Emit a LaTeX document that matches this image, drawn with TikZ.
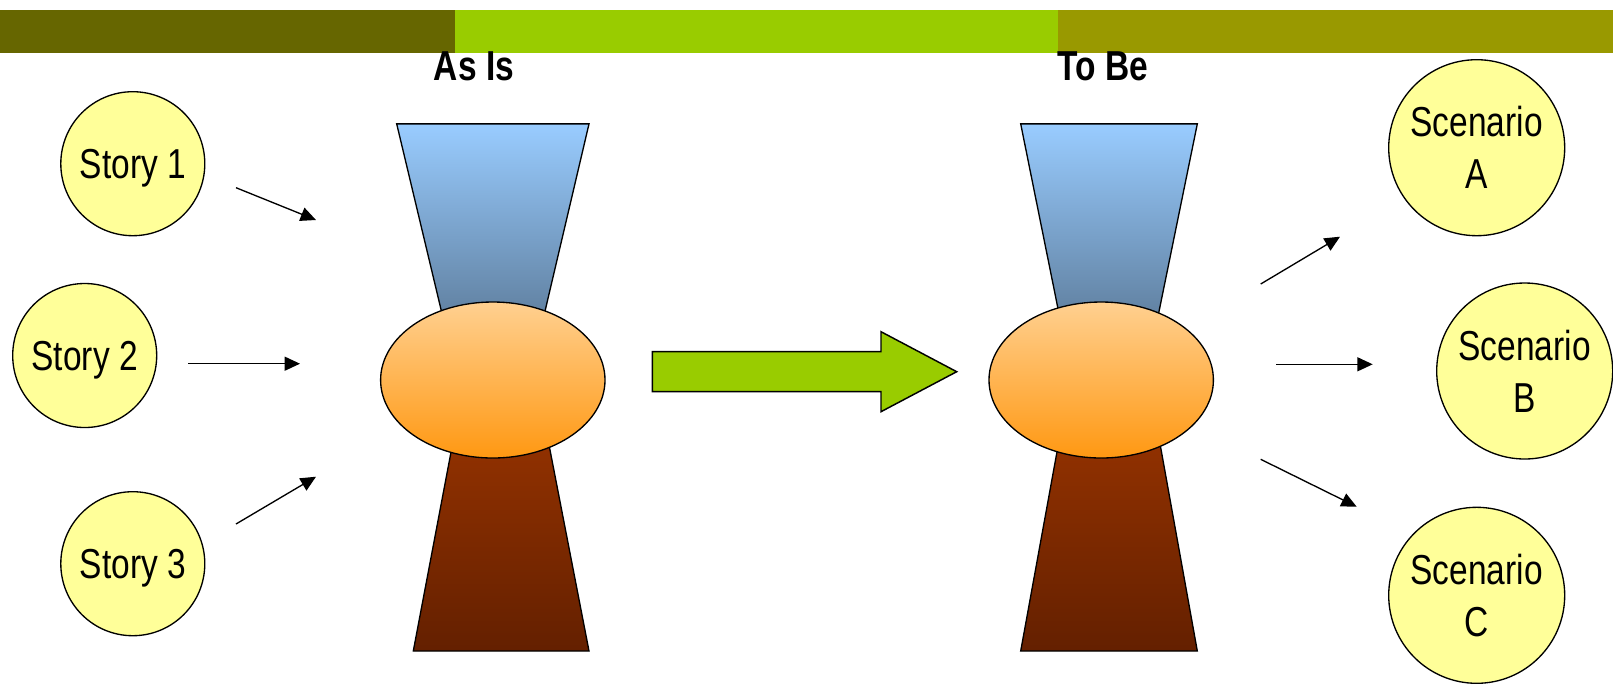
\documentclass[tikz,border=0pt]{standalone}
\usepackage{fontspec}
\usetikzlibrary{arrows.meta}
\newfontfamily\condsans[FakeStretch=0.8]{Liberation Sans}

\definecolor{barDark}{HTML}{666600}
\definecolor{barLime}{HTML}{99CC00}
\definecolor{barOlive}{HTML}{999900}
\definecolor{padYellow}{HTML}{FFFF99}
\definecolor{funnelTop}{HTML}{99CCFF}
\definecolor{funnelTopLow}{RGB}{78,104,130}
\definecolor{coreTop}{RGB}{255,208,144}
\definecolor{coreLow}{RGB}{255,152,18}
\definecolor{baseTop}{RGB}{158,54,0}
\definecolor{baseLow}{RGB}{100,32,0}

\tikzset{
  bubble/.style={circle, draw=black, line width=1pt, fill=padYellow,
    inner sep=0pt, align=center,
    font=\condsans\fontsize{31.4}{39}\selectfont},
  storybubble/.style={bubble, minimum size=108pt, text depth=0pt},
  scenebubble/.style={bubble, minimum size=132pt},
  flow/.style={line width=1pt, -{Triangle[length=11.5pt,width=10.5pt]}},
  title/.style={anchor=base, inner sep=0pt,
    font=\condsans\bfseries\fontsize{31.4}{39}\selectfont},
  funnel/.style={draw=black, line width=1pt, top color=funnelTop, bottom color=funnelTopLow},
  stem/.style={draw=black, line width=1pt, top color=baseTop, bottom color=baseLow},
  core/.style={draw=black, line width=1pt, top color=coreTop, bottom color=coreLow},
  bigarrow/.style={draw=black, line width=1.1pt, fill=barLime}
}

\begin{document}
\begin{tikzpicture}[x=0.75pt, y=-0.75pt]
  \useasboundingbox (0,0) rectangle (1613,683);
  \fill[white] (0,0) rectangle (1613,683);

  % header bar
  \fill[barDark]  (0,10)    rectangle (455,53);
  \fill[barLime]  (455,10)  rectangle (1057.7,53);
  \fill[barOlive] (1057.7,10) rectangle (1613,53);

  % column titles
  \node[title] (asis) at (474,80) {As Is};
  \node[title] (tobe) at (1103,80) {To Be};

  % input stories
  \node[storybubble] (s1) at (132.8,163.7) {Story 1};
  \node[storybubble] (s2) at (84.7,355.5)  {Story 2};
  \node[storybubble] (s3) at (132.8,563.7) {Story 3};

  % outcome scenarios
  \node[scenebubble] (sa) at (1476.7,147.7) {Scenario\\A};
  \node[scenebubble] (sb) at (1524.7,371)   {Scenario\\B};
  \node[scenebubble] (sc) at (1476.7,595.3) {Scenario\\C};

  % left hourglass (current state)
  \path[funnel] (396.7,123.9) -- (589,123.9) -- (528.6,381) -- (458.1,381) -- cycle;
  \path[stem] (464.5,381) -- (536.6,381) -- (589,651) -- (413.3,651) -- cycle;
  \path[core] (492.8,380) ellipse [x radius=112.2, y radius=78];

  % right hourglass (future state)
  \path[funnel] (1020.7,123.9) -- (1197.3,123.9) -- (1144.8,381) -- (1072.6,381) -- cycle;
  \path[stem] (1069.9,381) -- (1148.7,381) -- (1197.3,651) -- (1020.7,651) -- cycle;
  \path[core] (1101.2,380) ellipse [x radius=112.2, y radius=78];

  % transition arrow
  \path[bigarrow] (652.3,351.7) -- (881,351.7) -- (881,331.7) -- (956.7,371.7)
    -- (881,411.7) -- (881,391.7) -- (652.3,391.7) -- cycle;

  % connector end points
  \coordinate (a1s) at (236,187.7);   \coordinate (a1e) at (316,220);
  \coordinate (a2s) at (188.3,363.7); \coordinate (a2e) at (300,363.7);
  \coordinate (a3s) at (236,524);     \coordinate (a3e) at (316,476.7);
  \coordinate (bAs) at (1260.7,284);  \coordinate (bAe) at (1340,236.7);
  \coordinate (bBs) at (1276,364.3);  \coordinate (bBe) at (1372.7,364.3);
  \coordinate (bCs) at (1260.7,459.3);\coordinate (bCe) at (1356.7,506.7);

  \draw[flow] (a1s) -- (a1e);
  \draw[flow] (a2s) -- (a2e);
  \draw[flow] (a3s) -- (a3e);
  \draw[flow] (bAs) -- (bAe);
  \draw[flow] (bBs) -- (bBe);
  \draw[flow] (bCs) -- (bCe);
\end{tikzpicture}
\end{document}
